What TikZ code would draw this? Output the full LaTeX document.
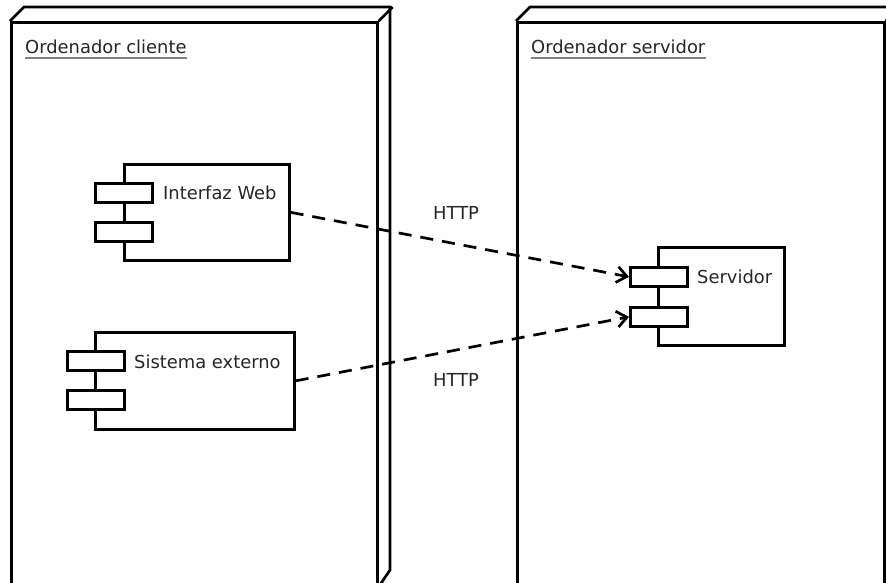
\documentclass[tikz,border=0pt]{standalone}
\usepackage{fontspec}
\setmainfont{DejaVu Sans}
\usetikzlibrary{arrows.meta}
\begin{document}
\begin{tikzpicture}[x=1pt,y=-1pt,
  outline/.style={draw=black, line width=2.7pt, line join=miter},
  txt/.style={text=black!85, font=\fontsize{17.9}{20}\selectfont, inner sep=0pt, anchor=base west},
  box/.style={outline, fill=white, inner sep=0pt, anchor=north west},
  tab/.style={box, minimum width=57pt, minimum height=19pt},
  uline/.style={draw=black!50, line width=1.8pt},
  link/.style={line width=2.7pt, dash pattern=on 13pt off 9pt,
    -{Straight Barb[length=10pt,width=16pt,line width=2.7pt]}}
]
\useasboundingbox (0,0) rectangle (886,582);
\clip (0,0) rectangle (886,582);

% client machine (3D deployment node)
\node[box, minimum width=366pt, minimum height=563pt] (client) at (10,21) {};
\draw[outline] (client.north west) -- ++(14,-14) -- ++(366,0) -- ++(0,563) -- (client.south east);
\draw[outline] (client.north east) -- ++(14,-14);
\node[txt] (clientT) at (25,53) {Ordenador cliente};
\draw[uline] ([yshift=-5pt]clientT.base west) -- ([yshift=-5pt]clientT.base east);

% server machine (3D deployment node)
\node[box, minimum width=367pt, minimum height=563pt] (server) at (516,21) {};
\draw[outline] (server.north west) -- ++(14,-14) -- ++(367,0) -- ++(0,563) -- (server.south east);
\draw[outline] (server.north east) -- ++(14,-14);
\node[txt] (serverT) at (531,53) {Ordenador servidor};
\draw[uline] ([yshift=-5pt]serverT.base west) -- ([yshift=-5pt]serverT.base east);

% component: Interfaz Web
\node[box, minimum width=165pt, minimum height=96pt] (web) at (123,163) {};
\node[tab] (webA) at (94,182) {};
\node[tab] (webB) at (94,221) {};
\node[txt] at (163,199) {Interfaz Web};

% component: Sistema externo
\node[box, minimum width=199pt, minimum height=97pt] (ext) at (94,331) {};
\node[tab] (extA) at (66,350) {};
\node[tab] (extB) at (66,389) {};
\node[txt] at (134,368) {Sistema externo};

% component: Servidor
\node[box, minimum width=126pt, minimum height=98pt] (srv) at (657,246) {};
\node[tab] (srvA) at (629,266) {};
\node[tab] (srvB) at (629,306) {};
\node[txt] at (697,283) {Servidor};

% dependencies
\draw[link] (web.east) -- (srvA.west);
\draw[link] (ext.east) -- (srvB.west);
\node[txt] (h1) at (433,219) {HTTP};
\node[txt] (h2) at (433,386) {HTTP};
\end{tikzpicture}
\end{document}
